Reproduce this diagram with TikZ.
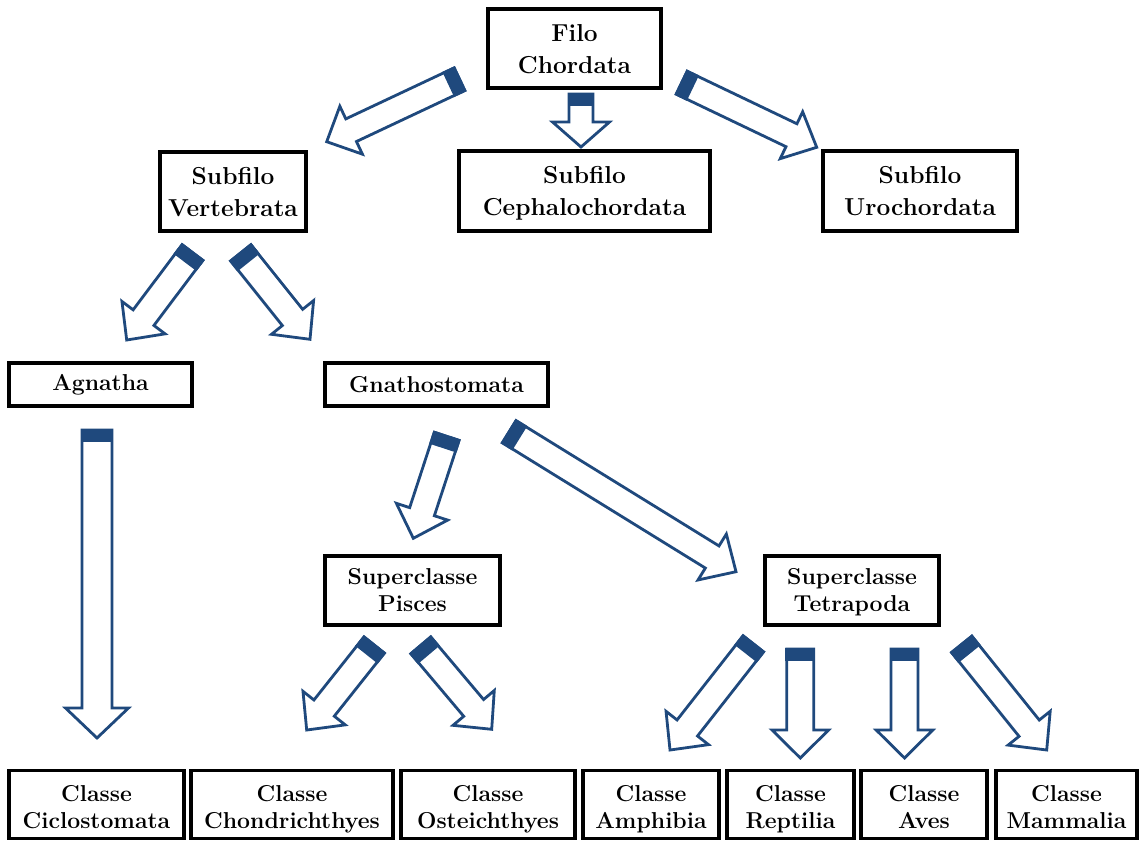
\documentclass[tikz,border=0pt]{standalone}
\usepackage{fontspec}
\usetikzlibrary{calc}
\definecolor{arrblue}{RGB}{31,73,125}
\newcommand{\lowstrut}{\rule{0pt}{26pt}}
\newcommand{\midstrut}{\rule{0pt}{21pt}}
\newcommand{\bigtopstrut}{\rule{0pt}{24.5pt}}
\newcommand{\deepstrut}{\rule[-6pt]{0pt}{6pt}}
\newcommand{\bigdeepstrut}{\rule[-7pt]{0pt}{7pt}}
\tikzset{
  box/.style={draw=black, line width=3.2pt, fill=white, inner sep=0pt, align=center, font=\bfseries\fontsize{23}{27}\selectfont},
  bigbox/.style={box, font=\bfseries\fontsize{24.5}{32}\selectfont},
  barrow/.style={draw=arrblue, line width=2.8pt, fill=white, line join=miter},
  bband/.style={draw=arrblue, line width=2.8pt, fill=arrblue}
}
\newcommand{\blockarr}[5]{%
  \coordinate (hb) at ($(#2)!#5pt!(#1)$);
  \coordinate (bb) at ($(#1)!11pt!(#2)$);
  \filldraw[barrow] ($(#1)!#3pt!90:(#2)$) -- ($(hb)!#3pt!90:(#2)$) -- ($(hb)!#4pt!90:(#2)$) -- (#2)
    -- ($(hb)!#4pt!-90:(#2)$) -- ($(hb)!#3pt!-90:(#2)$) -- ($(#1)!#3pt!-90:(#2)$) -- cycle;
  \filldraw[bband] ($(#1)!#3pt!90:(#2)$) -- ($(bb)!#3pt!90:(#2)$) -- ($(bb)!#3pt!-90:(#2)$) -- ($(#1)!#3pt!-90:(#2)$) -- cycle;
}
\begin{document}
\begin{tikzpicture}[x=1pt,y=-1pt]
\useasboundingbox (0,0) rectangle (1139,841);
% nodes
\node[bigbox, minimum width=173pt, minimum height=79pt] (filo) at (574.5,48.5) {\bigtopstrut Filo\\Chordata\bigdeepstrut};
\node[bigbox, minimum width=146pt, minimum height=79pt] (vert) at (233,191.5) {\bigtopstrut Subfilo\\Vertebrata\bigdeepstrut};
\node[bigbox, minimum width=251pt, minimum height=80pt] (ceph) at (584.5,191) {\bigtopstrut Subfilo\\Cephalochordata\bigdeepstrut};
\node[bigbox, minimum width=194pt, minimum height=80pt] (uro) at (920,191) {\bigtopstrut Subfilo\\Urochordata\bigdeepstrut};
\node[box, minimum width=183pt, minimum height=43pt] (agn) at (100.5,384.5) {Agnatha};
\node[box, minimum width=223pt, minimum height=43pt] (gna) at (436.5,384.5) {Gnathostomata};
\node[box, minimum width=175pt, minimum height=69pt] (pis) at (412.5,590.5) {\midstrut Superclasse\\Pisces\deepstrut};
\node[box, minimum width=174pt, minimum height=69pt] (tet) at (852,590.5) {\midstrut Superclasse\\Tetrapoda\deepstrut};
\node[box, minimum width=175pt, minimum height=68pt] (cic) at (96.5,804.5) {\lowstrut Classe\\Ciclostomata\deepstrut};
\node[box, minimum width=202pt, minimum height=68pt] (cho) at (292,804.5) {\lowstrut Classe\\Chondrichthyes\deepstrut};
\node[box, minimum width=174pt, minimum height=68pt] (ost) at (488,804.5) {\lowstrut Classe\\Osteichthyes\deepstrut};
\node[box, minimum width=136pt, minimum height=68pt] (amp) at (651,804.5) {\lowstrut Classe\\Amphibia\deepstrut};
\node[box, minimum width=127pt, minimum height=68pt] (rep) at (790.5,804.5) {\lowstrut Classe\\Reptilia\deepstrut};
\node[box, minimum width=126pt, minimum height=68pt] (ave) at (924,804.5) {\lowstrut Classe\\Aves\deepstrut};
\node[box, minimum width=141pt, minimum height=68pt] (mam) at (1066.5,804.5) {\lowstrut Classe\\Mammalia\deepstrut};
% arrow end points
\coordinate (t1) at (459.5,79.2);  \coordinate (e1) at (326.7,141.7);
\coordinate (t2) at (581,94);      \coordinate (e2) at (581,147);
\coordinate (t3) at (681.7,82.7);  \coordinate (e3) at (816.7,147.3);
\coordinate (t4) at (192.5,252.5); \coordinate (e4) at (126.7,340);
\coordinate (t5) at (240.8,252.8); \coordinate (e5) at (310,339.3);
\coordinate (t6) at (97,430);      \coordinate (e6) at (97,738);
\coordinate (t7) at (446.7,436.3); \coordinate (e7) at (413.3,538.3);
\coordinate (t8) at (509.2,431.7); \coordinate (e8) at (736,571.7);
\coordinate (t9) at (374.2,645);   \coordinate (e9) at (306.7,730);
\coordinate (t10) at (420.8,645.3); \coordinate (e10) at (491.7,729.3);
\coordinate (t11) at (753.3,643.8); \coordinate (e11) at (670,750);
\coordinate (t12) at (800.3,649);  \coordinate (e12) at (800.3,758);
\coordinate (t13) at (904.5,649);  \coordinate (e13) at (904.5,758);
\coordinate (t14) at (961.7,644.3); \coordinate (e14) at (1046.7,750);
% arrows
\blockarr{t1}{e1}{12.5}{26.5}{27}
\blockarr{t2}{e2}{12}{28.5}{25}
\blockarr{t3}{e3}{12.7}{26}{28}
\blockarr{t4}{e4}{13}{27}{28}
\blockarr{t5}{e5}{13}{27}{28}
\blockarr{t6}{e6}{15}{31.5}{30}
\blockarr{t7}{e7}{13}{27}{28}
\blockarr{t8}{e8}{13}{27}{28}
\blockarr{t9}{e9}{13}{27}{28}
\blockarr{t10}{e10}{13}{27}{28}
\blockarr{t11}{e11}{13}{27}{28}
\blockarr{t12}{e12}{13.5}{28.3}{28}
\blockarr{t13}{e13}{13.5}{28.3}{28}
\blockarr{t14}{e14}{13}{27}{28}
\end{tikzpicture}
\end{document}
